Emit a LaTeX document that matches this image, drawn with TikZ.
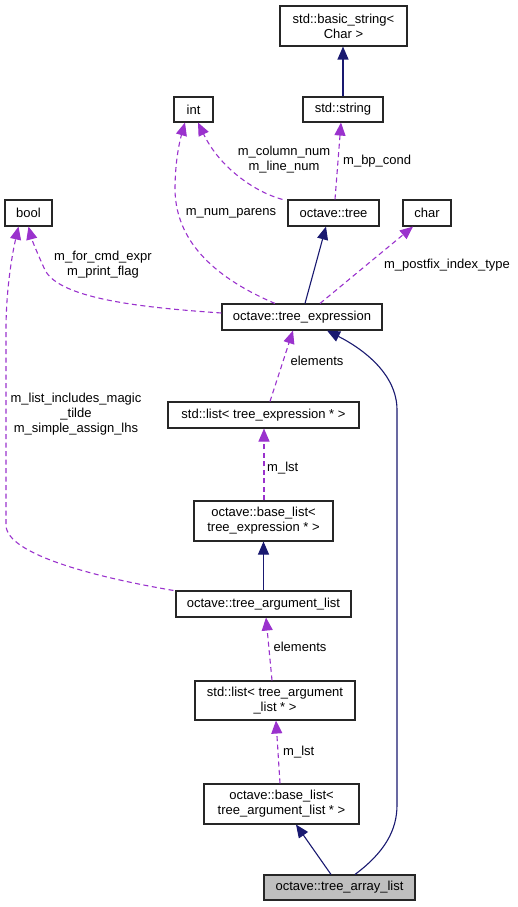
\documentclass[tikz,border=0pt]{standalone}
\usepackage{fontspec}
\setmainfont{Liberation Sans}
\usetikzlibrary{arrows.meta}
\definecolor{navyc}{HTML}{191970}
\definecolor{purp}{HTML}{9A32CD}
\definecolor{boxgray}{HTML}{BFBFBF}
\begin{document}
\begin{tikzpicture}[x=1pt,y=-1pt,
  every node/.style={font=\fontsize{13}{15}\selectfont},
  cls/.style={draw=black!85,line width=1.1pt,inner sep=0pt,align=center,fill=white},
  lbl/.style={inner sep=0pt,align=center},
  inh/.style={draw=navyc,line width=1.1pt,-{Triangle[length=13pt,width=11pt]}},
  use/.style={draw=purp,line width=1.1pt,dash pattern=on 5pt off 3.5pt,-{Triangle[length=13pt,width=11pt]}}]
\useasboundingbox (0,0) rectangle (517,907);
% nodes
\node[cls,minimum width=127pt,minimum height=40pt] (bs) at (343.5,26) {std::basic\_string<\\Char >};
\node[cls,minimum width=39pt,minimum height=25pt] (int) at (193.5,109.5) {int};
\node[cls,minimum width=80pt,minimum height=25pt] (str) at (343,109.5) {std::string};
\node[cls,minimum width=47pt,minimum height=26pt] (bool) at (28.5,213) {bool};
\node[cls,minimum width=91pt,minimum height=26pt] (tree) at (333.5,213) {octave::tree};
\node[cls,minimum width=48pt,minimum height=26pt] (char) at (427,213) {char};
\node[cls,minimum width=160pt,minimum height=26pt] (te) at (302,317) {octave::tree\_expression};
\node[cls,minimum width=191pt,minimum height=26pt] (lte) at (263.5,415) {std::list< tree\_expression * >};
\node[cls,minimum width=139pt,minimum height=40pt] (blte) at (263.5,521) {octave::base\_list<\\ tree\_expression * >};
\node[cls,minimum width=175pt,minimum height=26pt] (tal) at (263.5,604) {octave::tree\_argument\_list};
\node[cls,minimum width=160pt,minimum height=39pt] (ltal) at (275,700.5) {std::list< tree\_argument\\\_list * >};
\node[cls,minimum width=155pt,minimum height=40pt] (bltal) at (281.5,804) {octave::base\_list<\\ tree\_argument\_list * >};
\node[cls,fill=boxgray,minimum width=151pt,minimum height=25pt] (tarr) at (339.5,887.5) {octave::tree\_array\_list};
% edges
\draw[inh] (str.north) -- ([xshift=-0.5pt]bs.south);
\draw[use] ([xshift=1.5pt]tree.north) -- ([xshift=-2pt]str.south);
\draw[use] ([xshift=-5pt]tree.north west) .. controls (255,192) and (220,168) .. ([xshift=4.5pt]int.south);
\draw[use] ([xshift=-27pt]te.north) .. controls (220,280) and (176,245) .. (175,190) .. controls (175,160) and (180,140) .. ([xshift=-8.5pt]int.south);
\draw[use] ([yshift=4pt]te.west) .. controls (150,308) and (60,300) .. (45,270) .. controls (38,255) and (32,240) .. (bool.south);
\draw[inh] ([xshift=3pt]te.north) -- ([xshift=-7.5pt]tree.south);
\draw[use] ([xshift=18pt]te.north) -- ([xshift=-14pt]char.south);
\draw[use] ([xshift=6.5pt]lte.north) -- ([xshift=-9pt]te.south);
\draw[use] ([xshift=0.5pt]blte.north) -- ([xshift=0.5pt]lte.south);
\draw[inh] (tal.north) -- (blte.south);
\draw[use] ([xshift=-2pt]tal.north west) .. controls (100,578) and (6,555) .. (6,525) -- (6,330) .. controls (6,290) and (12,255) .. ([xshift=-10pt]bool.south);
\draw[use] ([xshift=-3pt]ltal.north) -- ([xshift=2.5pt]tal.south);
\draw[use] ([xshift=-1.5pt]bltal.north) -- ([xshift=1pt]ltal.south);
\draw[inh] ([xshift=-8.5pt]tarr.north) -- ([xshift=14.5pt]bltal.south);
\draw[inh] ([xshift=15.5pt]tarr.north) .. controls (385,852) and (397,830) .. (397,805) -- (397,410) .. controls (397,375) and (365,350) .. ([xshift=25pt]te.south);
% labels
\node[lbl,anchor=west] (l1) at (343,161) {m\_bp\_cond};
\node[lbl] (l2) at (284,160) {m\_column\_num\\m\_line\_num};
\node[lbl] (l3) at (231,213) {m\_num\_parens};
\node[lbl] (l4) at (103,264.5) {m\_for\_cmd\_expr\\m\_print\_flag};
\node[lbl] (l5) at (447,265) {m\_postfix\_index\_type};
\node[lbl] (l6) at (317,361) {elements};
\node[lbl,anchor=west] (l7) at (267,468) {m\_lst};
\node[lbl] (l8) at (76,414.5) {m\_list\_includes\_magic\\\_tilde\\m\_simple\_assign\_lhs};
\node[lbl] (l9) at (300,647) {elements};
\node[lbl,anchor=west] (l10) at (283,752) {m\_lst};
\end{tikzpicture}
\end{document}
